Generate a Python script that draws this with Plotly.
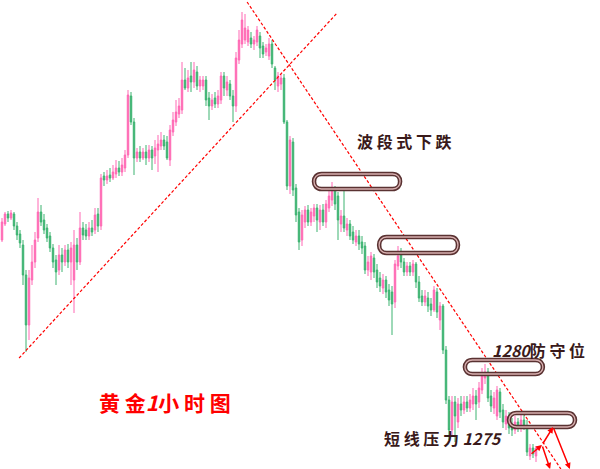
import plotly.graph_objects as go

# ---- data: hourly gold candles (price) ----
open_ = [1293.0,1294.6,1295.6,1295.2,1295.6,1294.4,1293.6,1292.5,1289.5,1284.5,
         1289.0,1290.8,1293.2,1295.8,1295.0,1294.2,1293.4,1292.2,1291.0,1290.0,
         1291.5,1290.8,1292.0,1290.8,1289.0,1292.5,1290.8,1294.2,1294.0,1293.4,
         1294.2,1294.0,1295.6,1294.4,1299.4,1299.0,1299.5,1299.2,1299.6,1300.2,
         1299.8,1300.2,1301.5,1307.4,1304.8,1301.2,1301.8,1301.2,1301.8,1301.2,
         1302.0,1301.4,1302.0,1302.4,1303.0,1302.8,1301.0,1303.8,1304.8,1305.6,
         1306.0,1309.0,1308.2,1309.4,1308.8,1309.8,1308.4,1308.4,1309.0,1307.2,
         1306.4,1307.2,1306.6,1307.0,1309.4,1308.0,1308.6,1307.4,1306.4,1311.0,
         1312.6,1313.0,1312.8,1313.2,1312.6,1312.8,1313.4,1312.4,1311.8,1311.4,
         1312.6,1310.2,1308.4,1308.6,1309.2,1304.8,1298.4,1302.8,1298.2,1295.8,
         1293.0,1294.8,1296.0,1294.8,1295.4,1296.2,1294.8,1296.0,1294.8,1296.2,
         1297.0,1298.0,1297.4,1294.6,1295.4,1294.0,1294.6,1293.8,1292.8,1293.4,
         1292.8,1292.4,1290.0,1289.8,1291.2,1290.0,1289.2,1288.2,1289.0,1288.0,
         1287.8,1286.8,1290.4,1291.6,1290.8,1289.8,1290.4,1289.8,1290.6,1288.8,
         1287.4,1286.8,1287.2,1286.6,1286.0,1287.8,1285.0,1286.4,1282.0,1277.0,
         1274.0,1276.8,1274.8,1276.6,1276.0,1276.8,1276.2,1276.6,1277.4,1276.8,
         1278.0,1279.2,1279.8,1277.4,1276.2,1275.4,1277.8,1276.0,1274.6,1275.4,
         1274.6,1274.0,1274.8,1274.2,1275.0,1274.4,1271.4,1272.2,1271.4]
high = [1295.2,1295.8,1295.9,1296.0,1295.8,1294.8,1294.0,1293.0,1290.0,1290.0,
        1292.5,1293.8,1297.2,1296.5,1295.6,1294.6,1293.8,1292.6,1291.5,1292.5,
        1292.2,1292.5,1292.6,1292.8,1294.0,1293.2,1295.8,1294.8,1294.6,1294.8,
        1295.0,1296.2,1296.2,1299.6,1299.8,1300.0,1300.2,1300.5,1301.0,1300.9,
        1301.2,1302.0,1308.0,1307.8,1305.2,1302.2,1302.4,1302.2,1302.5,1302.5,
        1302.4,1303.0,1303.5,1303.8,1303.5,1303.4,1304.5,1305.8,1307.0,1307.2,
        1310.8,1310.2,1310.0,1310.8,1310.8,1310.4,1309.4,1309.4,1309.4,1307.8,
        1307.6,1307.8,1308.0,1309.8,1309.8,1309.4,1309.0,1308.0,1311.8,1314.0,
        1315.8,1315.6,1314.4,1313.8,1313.4,1314.4,1313.8,1312.8,1312.6,1313.2,
        1313.0,1310.4,1309.8,1309.6,1309.6,1305.0,1303.4,1303.2,1298.6,1296.2,
        1296.0,1296.4,1296.5,1296.2,1296.6,1296.6,1296.5,1296.6,1297.0,1298.0,
        1298.8,1298.4,1297.8,1296.0,1298.0,1295.2,1295.0,1294.4,1294.0,1294.0,
        1293.4,1292.8,1291.4,1291.8,1291.6,1290.6,1289.8,1289.6,1289.4,1288.6,
        1288.4,1291.0,1292.4,1292.2,1291.2,1290.8,1290.8,1291.0,1290.8,1289.4,
        1288.0,1288.0,1287.8,1287.2,1288.4,1288.2,1286.8,1286.6,1282.4,1277.4,
        1277.4,1277.4,1277.2,1277.4,1277.4,1277.4,1277.6,1278.2,1278.0,1278.8,
        1280.2,1280.6,1280.2,1278.0,1277.8,1278.4,1278.2,1276.6,1276.0,1275.8,
        1275.2,1275.4,1275.2,1275.6,1275.6,1275.0,1272.6,1272.6,1272.4]
low = [1292.8,1294.4,1294.8,1295.0,1294.0,1293.0,1292.2,1288.5,1281.8,1283.0,
       1288.5,1290.2,1292.8,1294.4,1293.6,1292.8,1291.8,1290.2,1288.5,1289.5,
       1289.8,1290.4,1290.2,1288.5,1285.7,1290.0,1290.5,1293.0,1293.0,1293.0,
       1293.4,1293.6,1293.8,1294.0,1298.4,1298.6,1298.8,1299.0,1299.2,1299.4,
       1299.4,1299.8,1301.2,1304.5,1299.5,1300.8,1300.8,1301.0,1300.5,1300.8,
       1300.0,1300.6,1299.8,1302.0,1302.0,1301.0,1300.4,1303.4,1304.4,1305.2,
       1305.6,1308.0,1307.8,1307.8,1308.2,1308.0,1307.8,1308.0,1306.4,1305.0,
       1306.0,1306.2,1306.2,1306.6,1307.4,1307.4,1307.0,1304.8,1305.8,1310.6,
       1312.2,1312.6,1312.4,1312.2,1312.0,1312.4,1311.2,1311.2,1311.4,1311.0,
       1310.2,1308.0,1307.8,1308.0,1304.6,1298.0,1297.6,1297.4,1294.8,1292.0,
       1292.4,1294.2,1294.4,1294.4,1294.8,1293.8,1294.0,1294.4,1294.2,1295.8,
       1296.4,1296.0,1293.0,1293.8,1293.8,1293.4,1293.0,1292.6,1292.4,1292.0,
       1291.6,1289.6,1289.4,1289.0,1289.2,1288.2,1287.8,1287.6,1287.2,1286.4,
       1283.5,1286.2,1290.0,1290.2,1289.4,1289.4,1289.4,1289.4,1288.2,1286.8,
       1286.4,1286.4,1285.8,1285.4,1285.8,1285.2,1284.0,1281.6,1276.6,1273.0,
       1273.4,1272.8,1274.2,1275.4,1275.6,1275.8,1275.8,1276.0,1275.0,1276.2,
       1277.6,1278.6,1276.8,1275.8,1275.6,1275.0,1275.2,1274.2,1274.0,1273.6,
       1273.4,1273.6,1273.8,1273.8,1274.0,1271.4,1271.0,1271.2,1270.8]
close = [1294.8,1295.6,1295.2,1295.7,1294.4,1293.5,1292.7,1289.5,1284.5,1289.2,
         1290.8,1293.0,1295.8,1294.8,1294.0,1293.2,1292.2,1290.8,1289.8,1291.5,
         1290.8,1292.0,1290.8,1292.2,1292.5,1290.8,1294.2,1293.5,1293.4,1294.2,
         1293.8,1295.5,1294.4,1299.2,1299.0,1299.4,1299.2,1299.8,1300.2,1299.8,
         1300.5,1301.5,1307.5,1304.8,1301.2,1301.8,1301.2,1301.8,1301.2,1302.0,
         1301.2,1302.2,1302.6,1303.0,1302.4,1301.2,1304.0,1305.0,1305.8,1306.4,
         1309.0,1308.2,1309.2,1308.8,1310.0,1308.4,1309.0,1309.0,1307.0,1306.4,
         1307.0,1306.6,1307.4,1309.4,1308.2,1308.8,1307.4,1306.4,1311.2,1313.0,
         1315.0,1314.2,1314.0,1312.6,1313.0,1314.0,1312.2,1311.6,1312.2,1312.6,
         1310.6,1309.0,1309.4,1309.2,1304.8,1298.4,1303.0,1298.0,1295.5,1292.8,
         1295.5,1296.0,1294.8,1295.8,1296.2,1295.0,1296.0,1294.8,1296.6,1297.4,
         1298.2,1296.6,1295.0,1295.4,1294.2,1294.6,1293.4,1293.0,1293.4,1292.6,
         1292.2,1290.0,1290.8,1291.4,1289.8,1288.8,1288.4,1289.0,1287.8,1287.0,
         1286.6,1290.6,1291.4,1290.8,1289.8,1290.4,1289.8,1290.6,1288.8,1287.2,
         1286.8,1287.4,1286.4,1286.0,1288.0,1285.8,1286.4,1282.0,1277.0,1274.0,
         1276.8,1275.4,1276.6,1276.0,1276.8,1276.2,1277.0,1277.4,1276.6,1278.2,
         1279.6,1279.8,1277.2,1276.4,1277.2,1278.0,1275.8,1274.8,1275.4,1274.2,
         1274.0,1274.8,1274.2,1275.0,1274.4,1271.8,1272.2,1271.6,1272.2]
bars = list(range(len(close)))

# key levels (price) and their marked spans (bar index)
level_boxes = [  # (bar_from, bar_to, price_low, price_high)
    (104.0, 132.7, 1298.1, 1299.6),
    (125.7, 152.0, 1291.7, 1293.3),
    (154.3, 180.3, 1279.6, 1281.0),
    (169.0, 191.0, 1274.3, 1275.7),
]
up_trend = [(5.7, 1281.2), (111.7, 1315.7)]
down_trend = [(81.7, 1316.8), (186.3, 1270.1)]

UP = "#ff69b4"
DOWN = "#3cb371"
TXT = "#3a1a1a"
CJK = "Noto Sans CJK SC"
SP = "\u00a0"

fig = go.Figure(go.Candlestick(
    x=bars, open=open_, high=high, low=low, close=close,
    increasing=dict(line=dict(color=UP, width=1), fillcolor=UP),
    decreasing=dict(line=dict(color=DOWN, width=1), fillcolor=DOWN),
    hoverinfo="skip",
))

# trend lines
for (x0, y0), (x1, y1) in (up_trend, down_trend):
    fig.add_shape(type="line", x0=x0, y0=y0, x1=x1, y1=y1,
                  line=dict(color="#ff0000", width=1.2, dash="3px,2px"))

# stadium shaped level boxes
def stadium(x0, x1, ylo, yhi, rx):
    k = rx * 4 / 3
    return (f"M {x0+rx},{yhi} L {x1-rx},{yhi} "
            f"C {x1-rx+k},{yhi} {x1-rx+k},{ylo} {x1-rx},{ylo} "
            f"L {x0+rx},{ylo} "
            f"C {x0+rx-k},{ylo} {x0+rx-k},{yhi} {x0+rx},{yhi} Z")

for bx0, bx1, plo, phi in level_boxes:
    p = stadium(bx0, bx1, plo, phi, 2.5)
    fig.add_shape(type="path", path=p, line=dict(color="#5a3232", width=4.5))
    fig.add_shape(type="path", path=p, line=dict(color="#d8b0b0", width=1.3))

# red arrows
arrow_pts = [((176.0, 1271.5), (180.0, 1272.5)),
             ((180.0, 1272.5), (183.7, 1274.3)),
             ((183.7, 1274.3), (189.3, 1270.1)),
             ((180.0, 1272.5), (182.7, 1270.1))]
for (ax, ay), (x, y) in arrow_pts:
    fig.add_annotation(x=x, y=y, ax=ax, ay=ay, xref="x", yref="y",
                       axref="x", ayref="y", text="", showarrow=True,
                       arrowhead=2, arrowsize=0.8, arrowwidth=1.5,
                       arrowcolor="#ff0000")

labels = [
    (SP.join("波段式下跌"), 134.3, 1302.9, 16, TXT),
    ("<i>1280</i>" + SP.join("防守位"), 178.7, 1282.0, 16, TXT),
    (SP.join("短线压力") + SP + "<i>1275</i>", 147.0, 1273.2, 16, TXT),
    (SP.join("黄金") + "<i>1</i>" + SP.join("小时图"), 54.3, 1276.8, 21, "#ff0000"),
]
for t, x, y, s, c in labels:
    fig.add_annotation(x=x, y=y, xref="x", yref="y", text=f"<b>{t}</b>",
                       showarrow=False, font=dict(family=CJK, size=s, color=c))

fig.update_layout(
    width=600, height=469,
    margin=dict(l=0, r=0, t=0, b=0, pad=0, autoexpand=False),
    paper_bgcolor="white", plot_bgcolor="white", showlegend=False,
    xaxis=dict(visible=False, range=[-0.667, 199.333], rangeslider=dict(visible=False)),
    yaxis=dict(visible=False, range=[1270.1, 1317.0]),
)
fig.write_html("out.html", config={"displayModeBar": False},
               post_script="document.body.style.margin='0';")
